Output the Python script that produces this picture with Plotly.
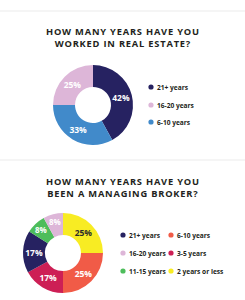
import plotly.graph_objects as go

# Chart 1 data
title1 = ["HOW MANY YEARS HAVE YOU", "WORKED IN REAL ESTATE?"]
cats1 = ["21+ years", "6-10 years", "16-20 years"]
vals1 = [42, 33, 25]
cols1 = ["#262261", "#418ACA", "#DDB6D8"]
legend1_order = ["21+ years", "16-20 years", "6-10 years"]

# Chart 2 data
title2 = ["HOW MANY YEARS HAVE YOU", "BEEN A MANAGING BROKER?"]
cats2 = ["2 years or less", "6-10 years", "3-5 years", "21+ years", "11-15 years", "16-20 years"]
vals2 = [25, 25, 17, 17, 8, 8]
cols2 = ["#F8EC23", "#F15B47", "#CD1F55", "#262261", "#4DBD5B", "#DDB6D8"]
legend2_order = [["21+ years", "6-10 years"], ["16-20 years", "3-5 years"], ["11-15 years", "2 years or less"]]

W, H = 245, 300
def px(x): return x / W
def py(y): return 1 - y / H

FONT = "Open Sans"
fig = go.Figure()

def txtcolors(cols):
    return ["#2a2a2a" if c == "#F8EC23" else "white" for c in cols]

fig.add_trace(go.Pie(
    labels=cats1, values=vals1, marker=dict(colors=cols1, line=dict(width=0)),
    hole=0.45, sort=False, direction="clockwise", rotation=0,
    text=[f"{v}%" for v in vals1], textinfo="text", textposition="inside",
    insidetextorientation="horizontal",
    textfont=dict(family=FONT, size=8.5, color=txtcolors(cols1), weight="bold"),
    domain=dict(x=[px(53), px(133)], y=[py(145), py(65)]),
    showlegend=False, hoverinfo="label+percent"))

fig.add_trace(go.Pie(
    labels=cats2, values=vals2, marker=dict(colors=cols2, line=dict(width=0)),
    hole=0.45, sort=False, direction="clockwise", rotation=0,
    text=[f"{v}%" for v in vals2], textinfo="text", textposition="inside",
    insidetextorientation="horizontal",
    textfont=dict(family=FONT, size=8.5, color=txtcolors(cols2), weight="bold"),
    domain=dict(x=[px(23), px(103)], y=[py(293), py(213)]),
    showlegend=False, hoverinfo="label+percent"))

shapes = []
annotations = []

# separator lines
for yy in [11, 160]:
    shapes.append(dict(type="line", xref="paper", yref="paper", x0=0, x1=1,
                       y0=py(yy), y1=py(yy), line=dict(color="#f2f2f2", width=1.5)))

# titles
for lines, yc in [(title1, 37.5), (title2, 187.5)]:
    txt = "<br>".join(f'<span style="letter-spacing:0.8px">{t}</span>' for t in lines)
    annotations.append(dict(text=txt, xref="paper", yref="paper", x=px(122.5), y=py(yc),
                            xanchor="center", yanchor="middle", showarrow=False,
                            font=dict(family=FONT, size=9.3, color="#231f20", weight="bold")))

def legend_item(label, color, mx, my):
    r = 2.6
    shapes.append(dict(type="circle", xref="paper", yref="paper",
                       x0=px(mx - r), x1=px(mx + r), y0=py(my + r), y1=py(my - r),
                       fillcolor=color, line=dict(width=0)))
    annotations.append(dict(text=label, xref="paper", yref="paper", x=px(mx + 4), y=py(my),
                            xanchor="left", yanchor="middle", showarrow=False,
                            font=dict(family=FONT, size=6.6, color="#231f20", weight="bold")))

cmap1 = dict(zip(cats1, cols1))
for i, lab in enumerate(legend1_order):
    legend_item(lab, cmap1[lab], 151, [87, 105, 122][i])

cmap2 = dict(zip(cats2, cols2))
for r, row in enumerate(legend2_order):
    for c, lab in enumerate(row):
        legend_item(lab, cmap2[lab], [123, 171][c], [235, 253, 271][r])

fig.update_layout(width=W, height=H, margin=dict(l=0, r=0, t=0, b=0),
                  paper_bgcolor="white", plot_bgcolor="white",
                  shapes=shapes, annotations=annotations)

fig.write_html("out.html")
